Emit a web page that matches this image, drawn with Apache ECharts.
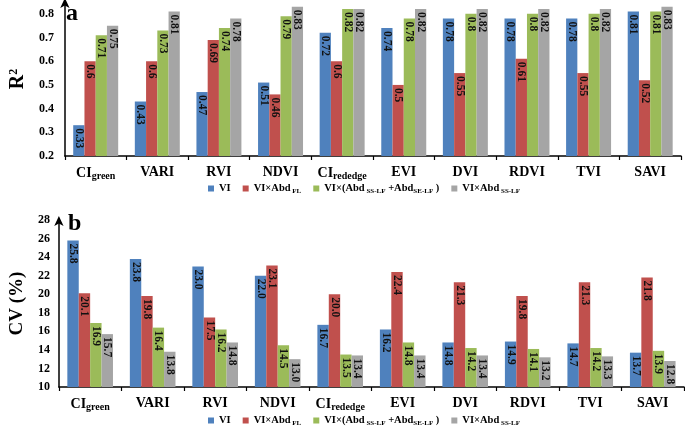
<!DOCTYPE html>
<html>
<head>
<meta charset="utf-8">
<script src="https://cdn.jsdelivr.net/npm/echarts@6/dist/echarts.min.js"></script>
<style>html,body{margin:0;padding:0;background:#fff}#c{width:685px;height:428px}</style>
</head>
<body>
<div id="c"></div>
<script>
const categories = ['CIgreen','VARI','RVI','NDVI','CIrededge','EVI','DVI','RDVI','TVI','SAVI'];
const seriesNames = ['VI','VI×AbdFL','VI×(AbdSS-LF+AbdSE-LF)','VI×AbdSS-LF'];

const r2VI      = [0.33,0.43,0.47,0.51,0.72,0.74,0.78,0.78,0.78,0.81];
const r2AbdFL   = [0.6,0.6,0.69,0.46,0.6,0.5,0.55,0.61,0.55,0.52];
const r2AbdSum  = [0.71,0.73,0.74,0.79,0.82,0.78,0.8,0.8,0.8,0.81];
const r2AbdSS   = [0.75,0.81,0.78,0.83,0.82,0.82,0.82,0.82,0.82,0.83];

const cvVI      = [25.8,23.8,23.0,22.0,16.7,16.2,14.8,14.9,14.7,13.7];
const cvAbdFL   = [20.1,19.8,17.5,23.1,20.0,22.4,21.3,19.8,21.3,21.8];
const cvAbdSum  = [16.9,16.4,16.2,14.5,13.5,14.8,14.2,14.1,14.2,13.9];
const cvAbdSS   = [15.7,13.8,14.8,13.0,13.4,13.4,13.4,13.2,13.3,12.8];

const colors = ['#4F81BD','#C0504D','#9BBB59','#A5A5A5'];
const FONT = 'Liberation Serif';

function catFmt(v){
  if (v.indexOf('CI') === 0) return '{m|CI}{s|' + v.slice(2) + '}';
  return '{m|' + v + '}';
}
const catRich = {
  m: {fontFamily: FONT, fontWeight: 'bold', fontSize: 14, color: '#000'},
  s: {fontFamily: FONT, fontWeight: 'bold', fontSize: 10, color: '#000', padding: [6,0,0,0]}
};
function legFmt(n){
  if (n === 'VI') return '{n|VI}';
  if (n === 'VI×AbdFL') return '{n|VI×Abd}{s| FL}';
  if (n === 'VI×AbdSS-LF') return '{n|VI×Abd}{s| SS-LF}';
  return '{n|VI×(Abd}{s| SS-LF}{n| +Abd}{s|SE-LF}{n| )}';
}
const legRich = {
  n: {fontFamily: FONT, fontWeight: 'bold', fontSize: 10.5, color: '#000'},
  s: {fontFamily: FONT, fontWeight: 'bold', fontSize: 7, color: '#000', padding: [6,0,0,0]}
};

function mkSeries(data, i, axisIdx, fmt){
  return {
    name: seriesNames[i], type: 'bar', xAxisIndex: axisIdx, yAxisIndex: axisIdx,
    data: data, barGap: '0%', barCategoryGap: '27%',
    itemStyle: {color: colors[i]},
    label: {
      show: true, position: 'insideTop', rotate: -90, align: 'left', verticalAlign: 'middle',
      distance: 3, fontFamily: FONT, fontWeight: 'bold', fontSize: 11.5, color: '#111',
      formatter: p => fmt(p.value)
    }
  };
}
const f2 = v => String(v);
const f1 = v => v.toFixed(1);

const axisLineStyle = {lineStyle: {color: '#000', width: 1.5}};

const option = {
  animation: false,
  title: [
    {text: 'a', left: 61, top: -3, textStyle: {fontFamily: FONT, fontWeight: 'bold', fontSize: 24, color: '#000'}},
    {text: 'b', left: 63, top: 207, textStyle: {fontFamily: FONT, fontWeight: 'bold', fontSize: 24, color: '#000'}}
  ],
  legend: [
    {data: seriesNames, left: 203, top: 178, icon: 'rect', itemWidth: 6, itemHeight: 6, itemGap: 12,
     formatter: legFmt, textStyle: {rich: legRich}, selectedMode: false},
    {data: seriesNames, left: 203, top: 410, icon: 'rect', itemWidth: 6, itemHeight: 6, itemGap: 12,
     formatter: legFmt, textStyle: {rich: legRich}, selectedMode: false}
  ],
  grid: [
    {left: 49, right: 4, top: 2, height: 154},
    {left: 52, right: 1, top: 220, height: 167}
  ],
  xAxis: [0,1].map(i => ({
    type: 'category', gridIndex: i, data: categories,
    axisLine: axisLineStyle,
    axisTick: {show: true, length: 4, lineStyle: {color: '#000', width: 1.2}},
    axisLabel: {interval: 0, margin: 9, formatter: catFmt, rich: catRich}
  })),
  yAxis: [
    {type: 'value', gridIndex: 0, min: 0.2, max: 0.85, interval: 0.1,
     axisLine: {show: true, symbol: ['none','arrow'], symbolSize: [7,10], symbolOffset: [0,4], lineStyle: {color: '#000', width: 1.5}},
     axisTick: {show: false}, splitLine: {show: false},
     axisLabel: {showMaxLabel: false, margin: 11, fontFamily: FONT, fontWeight: 'bold', fontSize: 12, color: '#000', formatter: v => v.toFixed(1)},
     name: '{r|R}{p|2}', nameLocation: 'middle', nameGap: 25, nameRotate: 90,
     nameTextStyle: {rich: {
       r: {fontFamily: FONT, fontWeight: 'bold', fontSize: 20, color: '#000'},
       p: {fontFamily: FONT, fontWeight: 'bold', fontSize: 12, color: '#000', padding: [0,0,8,0]}
     }}},
    {type: 'value', gridIndex: 1, min: 10, max: 28, interval: 2,
     axisLine: {show: true, symbol: ['none','arrow'], symbolSize: [7,10], symbolOffset: [0,4], lineStyle: {color: '#000', width: 1.5}},
     axisTick: {show: false}, splitLine: {show: false},
     axisLabel: {margin: 9, fontFamily: FONT, fontWeight: 'bold', fontSize: 12, color: '#000'},
     name: 'CV (%)', nameLocation: 'middle', nameGap: 26, nameRotate: 90,
     nameTextStyle: {fontFamily: FONT, fontWeight: 'bold', fontSize: 19, color: '#000'}}
  ],
  series: [
    mkSeries(r2VI,0,0,f2), mkSeries(r2AbdFL,1,0,f2), mkSeries(r2AbdSum,2,0,f2), mkSeries(r2AbdSS,3,0,f2),
    mkSeries(cvVI,0,1,f1), mkSeries(cvAbdFL,1,1,f1), mkSeries(cvAbdSum,2,1,f1), mkSeries(cvAbdSS,3,1,f1)
  ]
};
const chart = echarts.init(document.getElementById('c'));
chart.setOption(option);
</script>
</body>
</html>
